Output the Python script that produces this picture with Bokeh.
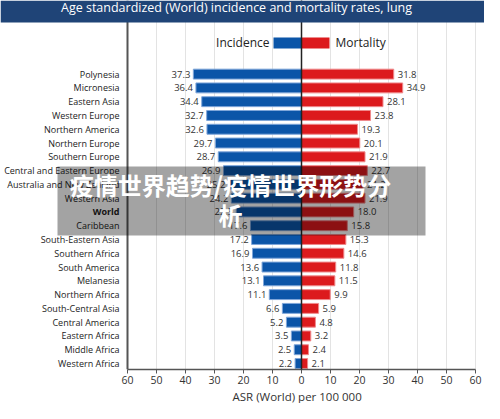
from bokeh.plotting import figure
from bokeh.models import (ColumnDataSource, LabelSet, Label, BoxAnnotation,
                          FixedTicker, Range1d, Grid, Title)
from bokeh.core.properties import value
from bokeh.embed import file_html
from bokeh.resources import INLINE

regions = ["Polynesia", "Micronesia", "Eastern Asia", "Western Europe", "Northern America",
           "Northern Europe", "Southern Europe", "Central and Eastern Europe",
           "Australia and New Zealand", "Western Asia", "World", "Caribbean",
           "South-Eastern Asia", "Southern Africa", "South America", "Melanesia",
           "Northern Africa", "South-Central Asia", "Central America", "Eastern Africa",
           "Middle Africa", "Western Africa"]
incidence = [37.3, 36.4, 34.4, 32.7, 32.6, 29.7, 28.7, 26.9, 25.2, 24.2, 22.5, 17.6,
             17.2, 16.9, 13.6, 13.1, 11.1, 6.6, 5.2, 3.5, 2.5, 2.2]
mortality = [31.8, 34.9, 28.1, 23.8, 19.3, 20.1, 21.9, 22.7, 21.2, 21.9, 18.0, 15.8,
             15.3, 14.6, 11.8, 11.5, 9.9, 5.9, 4.8, 3.2, 2.4, 2.1]
x_ticks = [-60, -50, -40, -30, -20, -10, 0, 10, 20, 30, 40, 50, 60]
tick_labels = {t: str(abs(t)) for t in x_ticks}

title_text = "Age standardized (World) incidence and mortality rates, lung"
legend_labels = ["Incidence", "Mortality"]
axis_title = "ASR (World) per 100 000"
overlay_line1 = "疫情世界趋势/疫情世界形势分"
overlay_line2 = "析"

BLUE = "#0b55a8"
BLUE_EDGE = "#7fa6d9"
RED = "#dc1a1d"
RED_EDGE = "#ef8a8c"
FONT = "Open Sans"

n = len(regions)
ypos = [n - 1 - i for i in range(n)]
src = ColumnDataSource(dict(
    region=regions, y=ypos,
    inc_neg=[-v for v in incidence], mort=mortality,
    inc_txt=[f"{v:.1f}" for v in incidence],
    mort_txt=[f"{v:.1f}" for v in mortality],
))
normal_idx = [i for i, r in enumerate(regions) if r != "World"]
world_idx = [i for i, r in enumerate(regions) if r == "World"]
src_norm = ColumnDataSource(dict(region=[regions[i] for i in normal_idx],
                                 y=[ypos[i] for i in normal_idx]))
src_world = ColumnDataSource(dict(region=[regions[i] for i in world_idx],
                                  y=[ypos[i] for i in world_idx]))

# layout helpers (page pixel -> data)
PX_ROW = 13.78
TOP_Y = n - 1 + 1.86          # top of the bar area (page y 56)
def ydat(page_y):
    return TOP_Y + (56 - page_y) / PX_ROW
def xdat(page_x):
    return (page_x - 309) / 2.9

BOT_Y = -0.435
p = figure(width=484, height=403, output_backend="svg", toolbar_location=None,
           x_range=Range1d(xdat(8), xdat(492)), y_range=Range1d(BOT_Y, ydat(8)),
           min_border_left=0, min_border_right=0, min_border_top=0,
           min_border_bottom=34)
p.outline_line_color = None
p.background_fill_color = "white"
p.border_fill_color = "white"

# grid
p.ygrid.visible = False
p.xgrid.ticker = FixedTicker(ticks=[t for t in x_ticks if t not in (-60, 0)])
p.xgrid.grid_line_color = "#e3e3e3"
p.xgrid.grid_line_width = 1
p.xgrid.bounds = (BOT_Y, TOP_Y)

# left axis line (-60)
p.add_layout(Grid(dimension=0, ticker=FixedTicker(ticks=[-60]), grid_line_color="#555555",
                  grid_line_width=2, bounds=(BOT_Y, TOP_Y + 0.1)))

# bottom axis
xa = p.xaxis[0]
xa.ticker = FixedTicker(ticks=x_ticks)
xa.bounds = (-60, 60)
xa.major_label_overrides = tick_labels
xa.minor_tick_line_color = None
xa.major_tick_out = 4
xa.major_tick_in = 0
xa.major_label_standoff = 2
xa.major_label_text_font = FONT
xa.major_label_text_font_size = "10.5px"
xa.major_label_text_color = "#333333"
xa.axis_line_color = "#555555"
xa.axis_line_width = 1.5
xa.major_tick_line_color = "#555555"

# axis title, placed under the axis and aligned to the bar area
p.add_layout(Title(text=axis_title, align="left", offset=232, standoff=0,
                   text_font=FONT, text_font_size="11.5px", text_font_style="normal",
                   text_color="#333333"), "below")

p.yaxis.visible = False

# bars
p.hbar(y="y", left="inc_neg", right=0, height=0.72, source=src,
       fill_color=BLUE, line_color=BLUE_EDGE, line_width=1)
p.hbar(y="y", left=0, right="mort", height=0.72, source=src,
       fill_color=RED, line_color=RED_EDGE, line_width=1)

# zero line
p.add_layout(Grid(dimension=0, ticker=FixedTicker(ticks=[0]), grid_line_color="#222222",
                  grid_line_width=1.5, bounds=(BOT_Y, ydat(45)), level="overlay"))

# value labels
p.add_layout(LabelSet(x="inc_neg", y="y", text="inc_txt", source=src, x_offset=-3,
                      text_align="right", text_baseline="middle", text_font=value(FONT),
                      text_font_size="9.5px", text_color="#333333"))
p.add_layout(LabelSet(x="mort", y="y", text="mort_txt", source=src, x_offset=4,
                      text_align="left", text_baseline="middle", text_font=value(FONT),
                      text_font_size="9.5px", text_color="#333333"))

# category labels
p.add_layout(LabelSet(x=-60, y="y", text="region", source=src_norm, x_offset=-8,
                      text_align="right", text_baseline="middle", text_font=value(FONT),
                      text_font_size="9px", text_color="#222222"))
p.add_layout(LabelSet(x=-60, y="y", text="region", source=src_world, x_offset=-8,
                      text_align="right", text_baseline="middle", text_font=value(FONT),
                      text_font_size="9px", text_font_style="bold", text_color="#222222"))

# title bar
p.add_layout(BoxAnnotation(left=None, right=xdat(493), bottom=ydat(30), top=None,
                           fill_color="#1f4477", fill_alpha=1, line_color=None, level="overlay"))
p.add_layout(Label(x=xdat(244), y=ydat(15), text=title_text, text_align="center",
                   text_baseline="middle", text_font=FONT, text_font_size="12.5px",
                   text_color="white", level="overlay"))

# legend
p.add_layout(BoxAnnotation(left=xdat(281), right=0, bottom=ydat(56), top=ydat(45),
                           fill_color=BLUE, fill_alpha=1, line_color=None))
p.add_layout(BoxAnnotation(left=0, right=xdat(337), bottom=ydat(56), top=ydat(45),
                           fill_color=RED, fill_alpha=1, line_color=None))
p.add_layout(Label(x=xdat(277), y=ydat(50.5), text=legend_labels[0], text_align="right",
                   text_baseline="middle", text_font=FONT, text_font_size="12px",
                   text_color="#222222"))
p.add_layout(Label(x=xdat(343), y=ydat(50.5), text=legend_labels[1], text_align="left",
                   text_baseline="middle", text_font=FONT, text_font_size="12px",
                   text_color="#222222"))

# overlay
p.add_layout(BoxAnnotation(left=xdat(65), right=xdat(433), bottom=ydat(243), top=ydat(174),
                           fill_color="#000000", fill_alpha=0.36, line_color=None,
                           level="overlay"))
p.add_layout(Label(x=xdat(238), y=ydat(192), text=overlay_line1, text_align="center",
                   text_baseline="middle", text_font="Noto Sans CJK SC",
                   text_font_style="bold", text_font_size="24px", text_color="white",
                   level="overlay"))
p.add_layout(Label(x=xdat(238), y=ydat(222), text=overlay_line2, text_align="center",
                   text_baseline="middle", text_font="Noto Sans CJK SC",
                   text_font_style="bold", text_font_size="24px", text_color="white",
                   level="overlay"))

open("out.html", "w").write(file_html(p, INLINE))
